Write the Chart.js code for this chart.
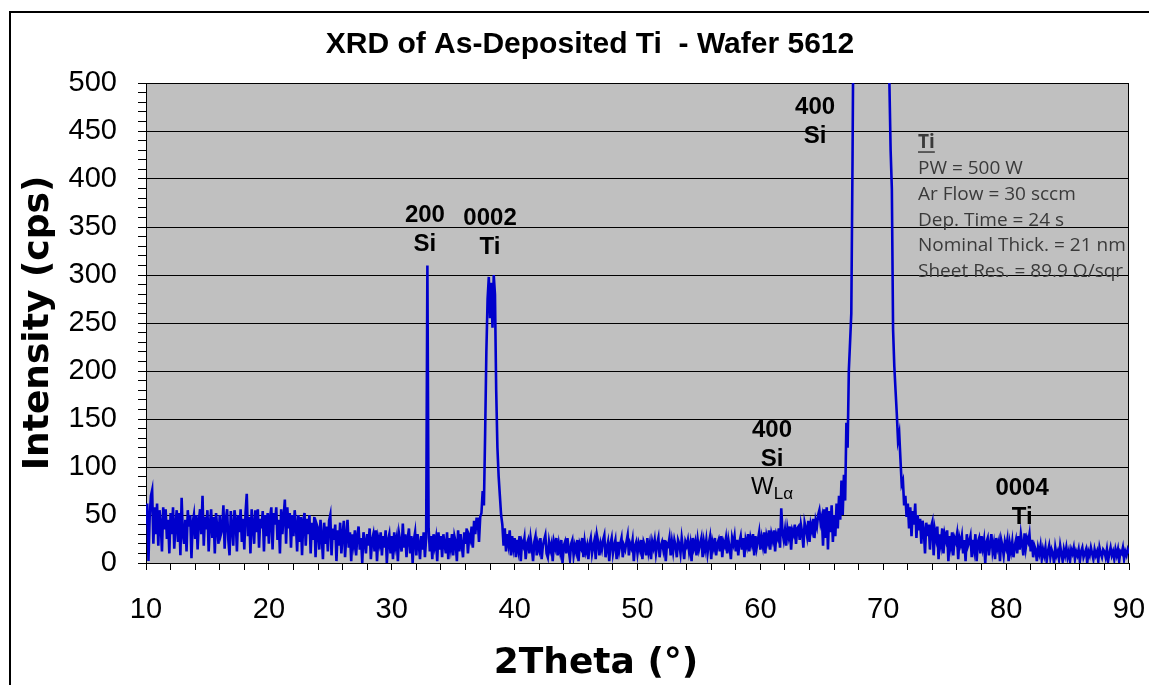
<!DOCTYPE html>
<html>
<head>
<meta charset="utf-8">
<script src="https://cdn.jsdelivr.net/npm/chart.js@4.4.1/dist/chart.umd.min.js"></script>
<style>
  html, body { margin: 0; padding: 0; background: #fff; }
  #wrap { width: 1149px; height: 685px; position: relative; }
</style>
</head>
<body>
<div id="wrap"><canvas id="c" width="1149" height="685"></canvas></div>
<script>
// 2Theta grid of the scan (degrees)
const twoThetaStart = 10;
const twoThetaStep = 0.1;

// Intensity (cps), one value per 0.1 deg
const counts10s = [
  40, 62, 2, 48, 70, 76, 20, 58, 30, 62,
  18, 55, 40, 12, 58, 35, 56, 25, 45, 10,
  52, 30, 58, 15, 40, 55, 22, 52, 8, 68,
  30, 20, 45, 12, 55, 38, 50, 5, 42, 50,
  25, 50, 14, 44, 56, 30, 70, 18, 48, 35,
  55, 12, 40, 56, 26, 48, 10, 52, 36, 20,
  50, 30, 35, 60, 15, 45, 56, 24, 8, 54,
  38, 18, 55, 45, 12, 50, 32, 56, 22, 46,
  14, 52, 72, 28, 48, 10, 56, 40, 20, 55,
  32, 56, 16, 46, 36, 54, 12, 50, 28, 52
];
const counts20s = [
  20, 48, 58, 14, 52, 40, 58, 24, 45, 10,
  56, 30, 48, 66, 20, 58, 36, 52, 16, 50,
  28, 55, 40, 12, 50, 22, 48, 8, 44, 52,
  18, 46, 30, 50, 10, 42, 24, 48, 6, 40,
  36, 14, 45, 28, 4, 42, 20, 38, 12, 44,
  50, 8, 36, 24, 40, 2, 34, 18, 42, 10,
  30, 44, 6, 28, 45, 16, 32, 2, 30, 20,
  34, 8, 28, 38, 14, 26, 0, 32, 22, 10,
  30, 18, 36, 4, 24, 30, 12, 34, 2, 26,
  20, 32, 8, 28, 16, 34, 0, 24, 30, 10
];
const counts30s = [
  28, 4, 32, 18, 26, 2, 30, 22, 12, 41,
  16, 30, 6, 26, 36, 10, 28, 0, 24, 32,
  8, 30, 20, 4, 28, 14, 32, 6, 26, 310,
  36, 12, 28, 4, 30, 18, 26, 2, 32, 14,
  28, 6, 30, 20, 10, 32, 4, 26, 16, 30,
  8, 28, 22, 2, 34, 12, 30, 18, 6, 32,
  20, 36, 10, 28, 24, 38, 16, 44, 30, 46,
  46, 22, 48, 52, 75, 60, 135, 220, 275, 298,
  255, 292, 245, 300, 280, 180, 120, 90, 70, 50,
  40, 18, 36, 12, 30, 20, 34, 8, 28, 16
];
const counts40s = [
  26, 6, 24, 14, 28, 2, 22, 18, 26, 4,
  20, 24, 10, 26, 16, 2, 22, 28, 8, 20,
  14, 26, 4, 18, 24, 29, 10, 6, 22, 14,
  20, 2, 22, 16, 26, 8, 20, 12, 24, 0,
  18, 22, 10, 26, 14, 4, 20, 24, 8, 18,
  12, 24, 2, 20, 16, 26, 6, 22, 12, 18,
  4, 20, 26, 10, 18, 24, 4, 29, 22, 8,
  20, 14, 24, 29, 6, 16, 22, 2, 20, 26,
  10, 18, 24, 4, 22, 12, 20, 26, 6, 18,
  14, 22, 29, 8, 20, 16, 24, 2, 18, 22
];
const counts50s = [
  10, 20, 14, 24, 4, 22, 18, 8, 26, 12,
  20, 4, 22, 16, 24, 10, 20, 26, 6, 18,
  22, 14, 24, 2, 20, 18, 26, 8, 22, 12,
  24, 18, 6, 24, 20, 10, 26, 16, 4, 22,
  18, 24, 12, 20, 2, 26, 16, 22, 8, 24,
  14, 20, 26, 6, 22, 14, 24, 10, 20, 27,
  4, 22, 16, 26, 8, 20, 24, 12, 28, 6,
  22, 18, 26, 10, 24, 16, 4, 26, 20, 28,
  12, 24, 8, 22, 28, 14, 26, 6, 24, 18,
  30, 12, 26, 20, 30, 8, 28, 16, 24, 32
];
const counts60s = [
  14, 26, 18, 32, 10, 28, 22, 34, 14, 30,
  24, 34, 12, 30, 26, 36, 16, 57, 32, 24,
  34, 18, 36, 28, 38, 14, 34, 30, 40, 20,
  36, 38, 24, 40, 32, 16, 42, 36, 28, 44,
  22, 40, 34, 46, 26, 44, 38, 50, 55, 42,
  48, 18, 56, 26, 58, 14, 54, 32, 60, 22,
  50, 28, 62, 36, 70, 45, 86, 50, 92, 65,
  146, 120, 201, 230, 260, 420, 620, 900, 1300, 1800,
  2400, 3000, 3800, 4600, 5500, 6500, 7500, 8500, 9500, 10500,
  11500, 12000, 11000, 9500, 8000, 6800, 5600, 4600, 3800, 3000
];
const counts70s = [
  2400, 1900, 1500, 1000, 620, 500, 430, 390, 243, 205,
  180, 156, 128, 135, 108, 82, 86, 60, 70, 48,
  62, 36, 58, 28, 54, 40, 62, 26, 50, 34,
  46, 20, 44, 34, 10, 42, 28, 40, 14, 38,
  43, 8, 34, 26, 38, 4, 30, 20, 36, 10,
  30, 24, 34, 2, 28, 18, 32, 8, 26, 22,
  30, 4, 26, 20, 28, 10, 24, 2, 30, 18,
  22, 28, 6, 24, 14, 30, 2, 22, 26, 10,
  28, 16, 24, 0, 22, 26, 8, 20, 30, 12,
  20, 4, 26, 16, 22, 2, 24, 18, 8, 22
];
const counts80s = [
  16, 24, 2, 20, 12, 22, 6, 18, 24, 10,
  28, 14, 30, 20, 8, 31, 16, 26, 22, 30,
  12, 24, 6, 18, 14, 2, 16, 10, 18, 4,
  14, 8, 16, 2, 12, 18, 6, 14, 10, 0,
  16, 8, 12, 4, 18, 10, 2, 14, 8, 16,
  6, 12, 2, 14, 10, 16, 4, 12, 8, 14,
  2, 12, 16, 6, 10, 14, 0, 12, 8, 16,
  10, 4, 14, 8, 12, 2, 16, 10, 6, 14,
  12, 6, 14, 2, 10, 16, 8, 12, 4, 14,
  8, 14, 2, 12, 10, 16, 4, 12, 8, 14,
  10
];

// Axis ticks
const xTickLabels = [10, 20, 30, 40, 50, 60, 70, 80, 90];
const yTickLabels = [0, 50, 100, 150, 200, 250, 300, 350, 400, 450, 500];

// Peak labels and note text
const peakLabels = [
  { x: 32.7, y: 355, lines: ['200', 'Si'] },
  { x: 38.0, y: 352, lines: ['0002', 'Ti'] },
  { x: 64.45, y: 468, lines: ['400', 'Si'] },
  { x: 60.95, y: 131, lines: ['400', 'Si'], sub: ['W', 'Lα'] },
  { x: 81.3, y: 71, lines: ['0004', 'Ti'] }
];
const noteTitle = 'Ti';
const noteLines = ['PW = 500 W', 'Ar Flow = 30 sccm', 'Dep. Time = 24 s', 'Nominal Thick. = 21 nm', 'Sheet Res. = 89.9 Ω/sqr'];

const intensity = [].concat(counts10s, counts20s, counts30s, counts40s, counts50s, counts60s, counts70s, counts80s);
const points = intensity.map((v, i) => ({ x: Math.round((twoThetaStart + i * twoThetaStep) * 10) / 10, y: v }));

const FONT = '"Liberation Sans", Arial, sans-serif';
const WIDE = '"DejaVu Sans", sans-serif';

const decor = {
  id: 'decor',
  beforeDraw(chart) {
    const { ctx, chartArea: a } = chart;
    ctx.save();
    ctx.fillStyle = '#ffffff';
    ctx.fillRect(0, 0, chart.width, chart.height);
    ctx.fillStyle = '#c0c0c0';
    ctx.fillRect(a.left, a.top, a.right - a.left, a.bottom - a.top);
    ctx.restore();
  },
  beforeDatasetsDraw(chart) {
    const { ctx, chartArea: a } = chart;
    ctx.save();
    ctx.strokeStyle = '#000';
    ctx.lineWidth = 1;
    ctx.beginPath();
    ctx.moveTo(Math.round(a.right) - 0.5, a.top);
    ctx.lineTo(Math.round(a.right) - 0.5, a.bottom);
    ctx.stroke();
    ctx.restore();
  },
  afterDraw(chart) {
    const { ctx, chartArea: a, scales } = chart;
    const xs = scales.x, ys = scales.y;
    ctx.save();
    // outer frame
    ctx.strokeStyle = '#000';
    ctx.lineWidth = 2;
    ctx.strokeRect(10, 12, 1170, 720);

    ctx.fillStyle = '#000';
    // chart title
    ctx.font = 'bold 30px ' + FONT;
    ctx.textAlign = 'center';
    ctx.textBaseline = 'alphabetic';
    ctx.fillText('XRD of As-Deposited Ti  - Wafer 5612', 590, 53);

    // axis titles
    ctx.font = 'bold 36px ' + WIDE;
    ctx.textBaseline = 'middle';
    ctx.fillText('2Theta (°)', 596, 664);
    ctx.save();
    ctx.translate(39, (a.top + a.bottom) / 2);
    ctx.rotate(-Math.PI / 2);
    ctx.fillText('Intensity (cps)', 0, 0);
    ctx.restore();

    // peak labels
    ctx.textBaseline = 'alphabetic';
    const lh = 29;
    peakLabels.forEach(p => {
      const px = xs.getPixelForValue(p.x);
      const py = ys.getPixelForValue(p.y);
      ctx.font = 'bold 24px ' + FONT;
      ctx.textAlign = 'center';
      p.lines.forEach((t, i) => ctx.fillText(t, px, py + i * lh));
      if (p.sub) {
        const by = py + p.lines.length * lh;
        ctx.font = '24px ' + FONT;
        const w1 = ctx.measureText(p.sub[0]).width;
        ctx.font = '17px ' + FONT;
        const w2 = ctx.measureText(p.sub[1]).width;
        const x0 = px - (w1 + w2) / 2;
        ctx.textAlign = 'left';
        ctx.font = '24px ' + FONT;
        ctx.fillText(p.sub[0], x0, by - 1);
        ctx.font = '17px ' + FONT;
        ctx.fillText(p.sub[1], x0 + w1, by + 4);
      }
    });

    // note box
    const nx = xs.getPixelForValue(72.83);
    const ny = ys.getPixelForValue(432);
    ctx.fillStyle = '#3a3a3a';
    ctx.textAlign = 'left';
    ctx.font = 'bold 19px "Open Sans", sans-serif';
    ctx.fillText(noteTitle, nx, ny);
    const tw = ctx.measureText(noteTitle).width;
    ctx.fillRect(nx, ny + 3, tw, 1.5);
    ctx.font = '19px "Open Sans", sans-serif';
    noteLines.forEach((t, i) => ctx.fillText(t, nx, ny + 25.8 * (i + 1)));
    ctx.restore();
  }
};

new Chart(document.getElementById('c'), {
  type: 'line',
  data: {
    datasets: [{
      data: points,
      borderColor: '#0000cc',
      borderWidth: 2.6,
      pointRadius: 0,
      tension: 0,
      fill: false
    }]
  },
  options: {
    responsive: false,
    animation: false,
    events: [],
    layout: { padding: { top: 83, right: 0, left: 0, bottom: 0 } },
    plugins: { legend: { display: false }, tooltip: { enabled: false }, title: { display: false } },
    scales: {
      x: {
        type: 'linear',
        min: 10, max: 90,
        afterFit(s) { s.height = 122; s.paddingRight = 20; s.paddingLeft = 0; },
        border: { display: true, color: '#000', width: 1 },
        grid: { drawOnChartArea: false, tickColor: '#000', tickLength: 7, lineWidth: 1 },
        ticks: {
          stepSize: 2,
          autoSkip: false,
          maxRotation: 0,
          padding: 23,
          color: '#000',
          font: { family: FONT, size: 29 },
          callback: v => xTickLabels.includes(v) ? String(v) : ''
        }
      },
      y: {
        type: 'linear',
        min: 0, max: 500,
        afterFit(s) { s.width = 146; },
        border: { display: true, color: '#000', width: 1 },
        grid: {
          color: c => (c.tick && yTickLabels.includes(c.tick.value)) ? '#000' : 'rgba(0,0,0,0)',
          tickColor: '#000',
          tickLength: 8,
          lineWidth: 1
        },
        ticks: {
          stepSize: 10,
          autoSkip: false,
          padding: 21,
          color: '#000',
          font: { family: FONT, size: 29 },
          callback: v => yTickLabels.includes(v) ? String(v) : ''
        }
      }
    }
  },
  plugins: [decor]
});
</script>
</body>
</html>
